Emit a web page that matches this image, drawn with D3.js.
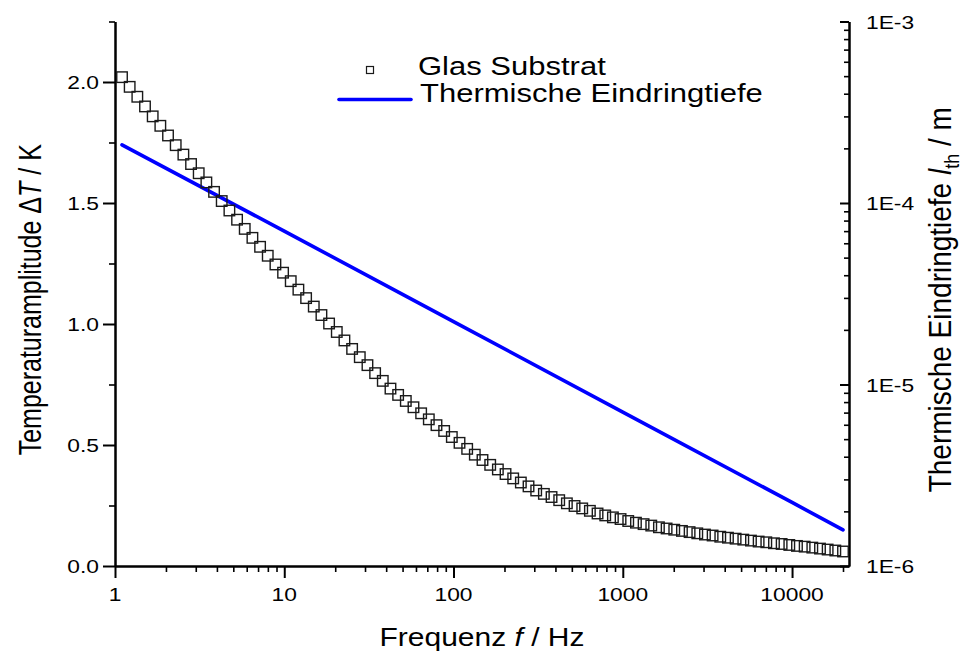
<!DOCTYPE html>
<html>
<head>
<meta charset="utf-8">
<script src="https://cdn.jsdelivr.net/npm/d3@7"></script>
<style>
  body { margin: 0; background: #fff; }
  text { font-family: "Liberation Sans", Arial, sans-serif; fill: #000; }
</style>
</head>
<body>
<svg id="chart" width="962" height="655"></svg>
<script>
// Measured temperature amplitude of the glass substrate vs. excitation frequency
const freq = [1.1,1.221,1.355,1.504,1.67,1.853,2.057,2.284,2.535,2.814,
  3.123,3.466,3.848,4.271,4.741,5.262,5.841,6.484,7.197,7.988,
  8.867,9.84,10.92,12.12,13.46,14.94,16.58,18.4,20.43,22.67,
  25.17,27.94,31.01,34.42,38.2,42.41,47.07,52.25,57.99,64.37,
  71.45,79.31,88.03,97.71,108.5,120.4,133.6,148.3,164.7,182.8,
  202.9,225.2,249.9,277.4,307.9,341.8,379.4,421.1,467.4,518.8,
  575.9,639.2,709.5,787.6,874.2,970.2,1077,1196,1327,1473,
  1635,1815,2014,2236,2482,2755,3058,3394,3767,4182,
  4641,5152,5718,6347,7045,7820,8680,9634,10693,11870,
  13175,14624,16232,18017,20000];
const deltaT = [2.020,1.980,1.939,1.899,1.858,1.819,1.779,1.739,1.700,1.661,
  1.623,1.585,1.546,1.508,1.469,1.431,1.393,1.356,1.319,1.282,
  1.246,1.212,1.177,1.142,1.107,1.072,1.037,1.002,0.967,0.932,
  0.897,0.863,0.830,0.797,0.765,0.733,0.707,0.682,0.656,0.631,
  0.606,0.582,0.558,0.533,0.509,0.484,0.460,0.438,0.418,0.399,
  0.380,0.362,0.345,0.329,0.312,0.298,0.285,0.272,0.259,0.248,
  0.238,0.228,0.217,0.209,0.201,0.194,0.186,0.179,0.173,0.167,
  0.160,0.155,0.150,0.145,0.140,0.135,0.130,0.126,0.121,0.117,
  0.113,0.109,0.105,0.101,0.098,0.094,0.091,0.087,0.083,0.080,
  0.076,0.072,0.068,0.064,0.060];

// Thermal penetration depth (right axis)
const depthFreq = [1.1, 10, 100, 1000, 10000, 20000];
const depth = [2.09e-4, 7.0e-5, 2.22e-5, 7.05e-6, 2.24e-6, 1.58e-6];

// Tick labels
const xTicks = [1, 10, 100, 1000, 10000];
const xTickLabels = ["1", "10", "100", "1000", "10000"];
const leftTicks = [0, 0.5, 1.0, 1.5, 2.0];
const leftTickLabels = ["0.0", "0.5", "1.0", "1.5", "2.0"];
const leftMinor = [0.25, 0.75, 1.25, 1.75, 2.25];
const rightTicks = [1e-6, 1e-5, 1e-4, 1e-3];
const rightTickLabels = ["1E-6", "1E-5", "1E-4", "1E-3"];

const SX = 1.2;         // horizontal text stretch
const L = 115, R = 849, T = 21.5, B = 566;

const svg = d3.select("#chart");

const x = d3.scaleLog().domain([1, 21700]).range([L, R]);
const yL = d3.scaleLinear().domain([0, 2.25]).range([B, T]);
const yR = d3.scaleLog().domain([1e-6, 1e-3]).range([B, T]);

function stretched(parent, px, py, size, anchor, sx = SX) {
  return parent.append("text")
    .attr("transform", `translate(${px},${py}) scale(${sx},1)`)
    .attr("text-anchor", anchor)
    .style("font-size", size + "px");
}

function styleAxis(g, w) {
  g.select(".domain").attr("stroke", "#000").attr("stroke-width", 2);
  g.selectAll(".tick line").attr("stroke", "#000").attr("stroke-width", w);
}

// Bottom axis
const xMinor = x.ticks().filter(v => !xTicks.includes(v));
const gxMin = svg.append("g").attr("transform", `translate(0,${B})`)
  .call(d3.axisBottom(x).tickValues(xMinor).tickSize(6).tickSizeOuter(0).tickFormat(""));
styleAxis(gxMin, 1.6);
const gx = svg.append("g").attr("transform", `translate(0,${B})`)
  .call(d3.axisBottom(x).tickValues(xTicks).tickSize(12).tickSizeOuter(0).tickFormat(""));
styleAxis(gx, 2);
xTicks.forEach((v, i) => stretched(svg, x(v), 601, 19, "middle").text(xTickLabels[i]));

// Left axis
const gyMin = svg.append("g").attr("transform", `translate(${L},0)`)
  .call(d3.axisLeft(yL).tickValues(leftMinor).tickSize(6).tickSizeOuter(0).tickFormat(""));
styleAxis(gyMin, 1.6);
const gy = svg.append("g").attr("transform", `translate(${L},0)`)
  .call(d3.axisLeft(yL).tickValues(leftTicks).tickSize(12).tickSizeOuter(0).tickFormat(""));
styleAxis(gy, 2);
leftTicks.forEach((v, i) => stretched(svg, 99, yL(v) + 7, 19, "end").text(leftTickLabels[i]));

// Right axis (ticks pointing inward)
const rMinor = yR.ticks().filter(v => !rightTicks.some(t => Math.abs(t - v) / t < 1e-6));
const grMin = svg.append("g").attr("transform", `translate(${R},0)`)
  .call(d3.axisRight(yR).tickValues(rMinor).tickSize(-5).tickSizeOuter(0).tickFormat(""));
styleAxis(grMin, 1.6);
const gr = svg.append("g").attr("transform", `translate(${R},0)`)
  .call(d3.axisRight(yR).tickValues(rightTicks).tickSize(-9).tickSizeOuter(0).tickFormat(""));
styleAxis(gr, 2);
rightTicks.forEach((v, i) => stretched(svg, 866, yR(v) + 7, 19, "start").text(rightTickLabels[i]));

// Axis titles
const xt = stretched(svg, (L + R) / 2, 646, 25, "middle");
xt.append("tspan").text("Frequenz ");
xt.append("tspan").style("font-style", "italic").text("f");
xt.append("tspan").text(" / Hz");

const lt = svg.append("text")
  .attr("transform", `translate(41,${(T + B) / 2 + 6}) scale(1.25,1) rotate(-90)`)
  .attr("text-anchor", "middle").style("font-size", "25px");
lt.append("tspan").text("Temperaturamplitude \u0394");
lt.append("tspan").style("font-style", "italic").text("T");
lt.append("tspan").text(" / K");

const rt = svg.append("text")
  .attr("transform", `translate(951,${(T + B) / 2 + 6}) scale(1.15,1) rotate(-90)`)
  .attr("text-anchor", "middle").style("font-size", "28px");
rt.append("tspan").text("Thermische Eindringtiefe ");
rt.append("tspan").style("font-style", "italic").text("l");
rt.append("tspan").attr("dy", 7).style("font-size", "18px").text("th");
rt.append("tspan").attr("dy", -7).text(" / m");

// Penetration depth line
const line = d3.line().x((d, i) => x(depthFreq[i])).y(d => yR(d));
svg.append("path").datum(depth)
  .attr("d", line)
  .attr("fill", "none").attr("stroke", "#0000ff").attr("stroke-width", 3.6)
  .attr("stroke-linecap", "round");

// Temperature amplitude markers
const S = 10.5;
svg.append("g").selectAll("rect").data(deltaT).join("rect")
  .attr("x", (d, i) => x(freq[i]) - S / 2)
  .attr("y", d => yL(d) - S / 2)
  .attr("width", S).attr("height", S)
  .attr("fill", "none").attr("stroke", "#1a1a1a").attr("stroke-width", 1.4);

// Legend
const lg = svg.append("g");
lg.append("rect").attr("x", 366.5).attr("y", 66.5).attr("width", 7).attr("height", 7)
  .attr("fill", "none").attr("stroke", "#1a1a1a").attr("stroke-width", 1.2);
stretched(lg, 418, 74.5, 25, "start", 1.24).text("Glas Substrat");
lg.append("line").attr("x1", 339).attr("x2", 411).attr("y1", 99.5).attr("y2", 99.5)
  .attr("stroke", "#0000ff").attr("stroke-width", 3.6).attr("stroke-linecap", "round");
stretched(lg, 420, 101.5, 25, "start", 1.24).text("Thermische Eindringtiefe");
</script>
</body>
</html>
